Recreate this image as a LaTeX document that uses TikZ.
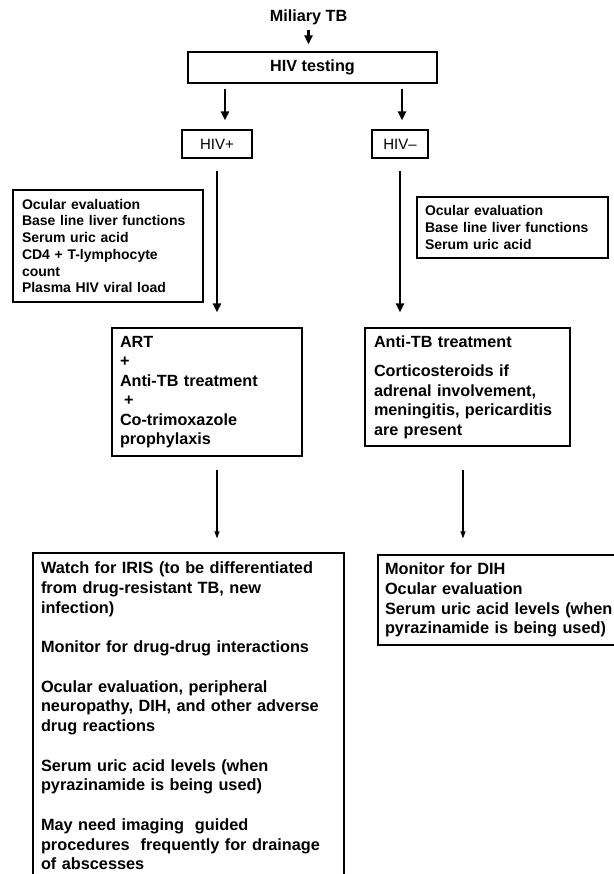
\documentclass[tikz,border=0pt]{standalone}
\usepackage{fontspec}
\setmainfont{Liberation Sans}
\usetikzlibrary{arrows.meta}

\newcommand{\headfont}{\fontsize{16.2}{19}\selectfont\bfseries}
\newcommand{\signfont}{\fontsize{15}{18}\selectfont}
\newcommand{\listfont}{\fontsize{14}{16.7}\selectfont\bfseries}
\newcommand{\treatfont}{\fontsize{16.2}{19.5}\selectfont\bfseries}
\newcommand{\carefont}{\fontsize{16.3}{19.75}\selectfont\bfseries}

\begin{document}
\begin{tikzpicture}[x=1pt,y=-1pt]
\tikzstyle{every node}+=[inner sep=0pt]
\tikzstyle{box}=[draw=black, line width=1.3pt, align=left]
\tikzstyle{fat}=[line width=2.2pt, -{Triangle[length=9pt,width=8pt]}]
\tikzstyle{slim}=[line width=1.1pt, -{Triangle[length=7pt,width=5pt]}]
\useasboundingbox (0,0) rectangle (613,874);
% top of the chart
\node[font=\headfont] (tb) at (308.5,17) {Miliary TB};
\node[box, align=center, minimum width=249pt, minimum height=31pt, font=\headfont] (test) at (312.5,67.5) {HIV testing};
\node[box, align=center, minimum width=70pt, minimum height=28pt, font=\signfont] (pos) at (217,144) {HIV+};
\node[box, align=center, minimum width=56pt, minimum height=28pt, font=\signfont] (neg) at (400,144) {HIV–};
% baseline work-up
\node[box, inner xsep=9pt, text width=172pt, minimum height=112pt, font=\listfont] (posinfo) at (108,246)
  {Ocular evaluation\\Base line liver functions\\Serum uric acid\\CD4 + T-lymphocyte\\count\\Plasma HIV viral load};
\node[box, inner xsep=8pt, text width=175pt, minimum height=61pt, font=\listfont] (neginfo) at (512.5,227.5)
  {Ocular evaluation\\Base line liver functions\\Serum uric acid};
% treatment
\node[box, inner xsep=8pt, text width=174pt, minimum height=128pt, font=\treatfont] (art) at (207,392)
  {ART\\+\\Anti-TB treatment\\\hspace*{4pt}+\\Co-trimoxazole\\prophylaxis};
\node[box, inner xsep=9pt, text width=187pt, minimum height=118pt, font=\treatfont] (antitb) at (467.5,387)
  {Anti-TB treatment\\[10pt]Corticosteroids if\\adrenal involvement,\\meningitis, pericarditis\\are present};
% follow-up
\node[box, inner xsep=8pt, text width=295pt, minimum height=326pt, font=\carefont] (poswatch) at (188.5,716)
  {Watch for IRIS (to be differentiated\\from drug-resistant TB, new\\infection)\\[19.75pt]%
   Monitor for drug-drug interactions\\[19.75pt]%
   Ocular evaluation, peripheral\\neuropathy, DIH, and other adverse\\drug reactions\\[19.75pt]%
   Serum uric acid levels (when\\pyrazinamide is being used)\\[19.75pt]%
   May need imaging~ guided\\procedures~ frequently for drainage\\of abscesses};
\node[box, inner xsep=7pt, text width=248pt, minimum height=90pt, font=\carefont] (negwatch) at (509,600)
  {Monitor for DIH\\Ocular evaluation\\Serum uric acid levels (when\\pyrazinamide is being used)};
% arrows
\draw[fat, shorten <=5pt, shorten >=7pt] (tb.south) -- (tb.south |- test.north);
\draw[fat, shorten <=5pt, shorten >=9pt] ([xshift=8pt]pos.north |- test.south) -- ([xshift=8pt]pos.north);
\draw[fat, shorten <=5pt, shorten >=9pt] ([xshift=2pt]neg.north |- test.south) -- ([xshift=2pt]neg.north);
\draw[fat, shorten <=12pt, shorten >=15pt] (pos.south) -- (pos.south |- art.north);
\draw[fat, shorten <=12pt, shorten >=15pt] (neg.south) -- (neg.south |- antitb.north);
\draw[slim, shorten <=13pt, shorten >=14pt] (pos.south |- art.south) -- (pos.south |- poswatch.north);
\draw[slim, shorten <=23pt, shorten >=16pt] ([xshift=-4.5pt]antitb.south) -- ([xshift=-4.5pt]antitb.south |- negwatch.north);
\end{tikzpicture}
\end{document}
